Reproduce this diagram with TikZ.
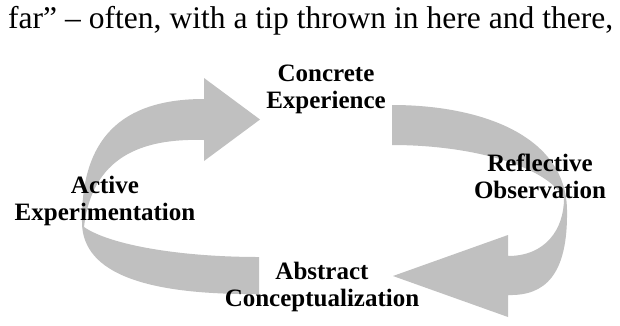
\documentclass[tikz,border=0pt]{standalone}
\usepackage{fontspec}
\setmainfont{Liberation Serif}
\definecolor{arrowgray}{RGB}{192,192,192}
\begin{document}
\begin{tikzpicture}[x=1pt,y=-1pt,
  lbl/.style={font=\fontsize{25}{27}\selectfont\bfseries, align=center, inner sep=0pt},
  band/.style={fill=arrowgray, draw=none},
  bodytext/.style={font=\fontsize{31.5}{33}\selectfont, inner sep=0pt, anchor=base west}]
\useasboundingbox (0,0) rectangle (620,325);
\fill[white] (0,0) rectangle (620,325);
% left curved arrow (Abstract -> Active -> Concrete)
\path[band] (259,257) .. controls (180,257) and (110,245) .. (84,227)
  .. controls (92,158) and (140,138) .. (204,140) -- (204,161) -- (260,119.5) -- (204,78) -- (204,99)
  .. controls (120,99) and (81,140) .. (82,222)
  .. controls (82,275) and (150,295) .. (259,294) -- cycle;
% right curved arrow (Concrete -> Reflective -> Abstract)
\path[band] (392,105) -- (392,145) .. controls (470,145) and (545,165) .. (564,198)
  .. controls (564,230) and (545,256) .. (508,256) -- (508,235) -- (393,276) -- (508,317) -- (508,295)
  .. controls (545,296) and (568,275) .. (567,210)
  .. controls (566,135) and (480,105) .. (392,105) -- cycle;
% text
\node[bodytext] (top) at (8,28) {\makebox[605pt][s]{far” – often, with a tip thrown in here and there,}};
\node[lbl] (ce) at (326,89) {Concrete\\Experience};
\node[lbl] (ro) at (540,176) {Reflective\\Observation};
\node[lbl] (ae) at (105,201) {Active\\Experimentation};
\node[lbl] (ac) at (322,287) {Abstract\\Conceptualization};
\end{tikzpicture}
\end{document}
